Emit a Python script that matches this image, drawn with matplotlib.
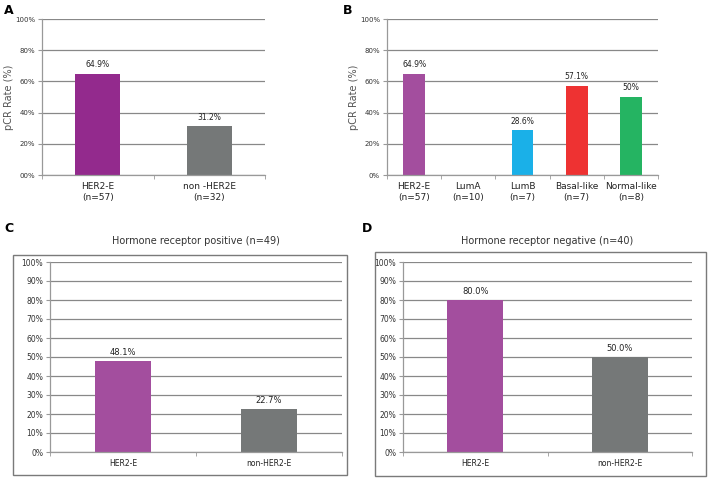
import matplotlib
matplotlib.use("Agg")
import matplotlib.pyplot as plt
from matplotlib.patches import Rectangle
import numpy as np

# panel A
a_cats = ["HER2-E\n(n=57)", "non -HER2E\n(n=32)"]
a_vals = [64.9, 31.2]
a_labels = ["64.9%", "31.2%"]
a_ticks = [0, 20, 40, 60, 80, 100]
a_ticklabels = ["00%", "20%", "40%", "60%", "80%", "100%"]

# panel B
b_cats = ["HER2-E\n(n=57)", "LumA\n(n=10)", "LumB\n(n=7)", "Basal-like\n(n=7)", "Normal-like\n(n=8)"]
b_vals = [64.9, 0, 28.6, 57.1, 50]
b_labels = ["64.9%", "", "28.6%", "57.1%", "50%"]
b_ticks = [0, 20, 40, 60, 80, 100]
b_ticklabels = ["0%", "20%", "40%", "60%", "80%", "100%"]

# panels C / D
cd_cats = ["HER2-E", "non-HER2-E"]
c_vals = [48.1, 22.7]
c_labels = ["48.1%", "22.7%"]
d_vals = [80.0, 50.0]
d_labels = ["80.0%", "50.0%"]
cd_ticks = list(range(0, 101, 10))
cd_ticklabels = [f"{t}%" for t in cd_ticks]

purple_a = "#932a8d"
purple = "#a34e9e"
gray = "#757878"
b_colors = [purple, purple, "#1ab0e8", "#ee3232", "#25b462"]

W, H = 708, 478
fig = plt.figure(figsize=(W / 100, H / 100), dpi=100)
plt.rcParams['font.family'] = ['DejaVu Sans']


def px_axes(left, top, right, bottom):
    return fig.add_axes([left / W, 1 - bottom / H, (right - left) / W, (bottom - top) / H])


def style(ax, n, ticks, ticklabels, tick_fs):
    ax.set_xlim(-0.5, n - 0.5)
    ax.set_ylim(0, 100)
    ax.set_yticks(ticks)
    ax.set_yticklabels(ticklabels, fontsize=tick_fs, color="#333333")
    ax.set_xticks(range(n))
    ax.tick_params(axis="x", length=0, pad=5)
    ax.set_xticks(np.arange(-0.5, n, 1.0), minor=True)
    ax.tick_params(axis="x", which="minor", length=3, color="#999999")
    ax.tick_params(axis="y", length=3, color="#999999", pad=2)
    ax.grid(axis="y", color="#888888", linewidth=0.9)
    ax.set_axisbelow(True)
    for s in ["top", "right"]:
        ax.spines[s].set_visible(False)
    for s in ["left", "bottom"]:
        ax.spines[s].set_color("#999999")
        ax.spines[s].set_linewidth(0.9)


def annotate(ax, vals, labels, fs, off):
    for i, (v, lab) in enumerate(zip(vals, labels)):
        if lab:
            ax.text(i, v + off, lab, ha="center", va="bottom", fontsize=fs, color="#222222")


# A
axA = px_axes(42, 19, 265, 175)
axA.bar(range(len(a_vals)), a_vals, width=0.4, color=[purple_a, gray], zorder=2)
style(axA, 2, a_ticks, a_ticklabels, 5)
axA.set_xticklabels(a_cats, fontsize=6.5, color="#222222", linespacing=1.3)
axA.set_ylabel("pCR Rate (%)", fontsize=7, color="#555555", labelpad=1)
annotate(axA, a_vals, a_labels, 5.5, 3)

# B
axB = px_axes(387, 19, 658, 175)
axB.bar(range(len(b_vals)), b_vals, width=0.4, color=b_colors, zorder=2)
style(axB, 5, b_ticks, b_ticklabels, 5)
axB.set_xticklabels(b_cats, fontsize=6.5, color="#222222", linespacing=1.3)
axB.set_ylabel("pCR Rate (%)", fontsize=7, color="#555555", labelpad=1)
annotate(axB, b_vals, b_labels, 5.5, 3)

# C
axC = px_axes(50, 262, 342, 452)
axC.bar(range(2), c_vals, width=0.39, color=[purple, gray], zorder=2)
style(axC, 2, cd_ticks, cd_ticklabels, 5.5)
axC.set_xticklabels(cd_cats, fontsize=5.5, color="#222222")
annotate(axC, c_vals, c_labels, 6, 2)
axC.set_title("Hormone receptor positive (n=49)", fontsize=7, color="#333333", pad=13)

# D
axD = px_axes(403, 262, 692, 452)
axD.bar(range(2), d_vals, width=0.39, color=[purple, gray], zorder=2)
style(axD, 2, cd_ticks, cd_ticklabels, 5.5)
axD.set_xticklabels(cd_cats, fontsize=5.5, color="#222222")
annotate(axD, d_vals, d_labels, 6, 2)
axD.set_title("Hormone receptor negative (n=40)", fontsize=7, color="#333333", pad=13)

# frames around C and D
for (l, t, r, b) in [(13, 255, 347, 475), (375, 252, 706, 476)]:
    fig.patches.append(Rectangle((l / W, 1 - b / H), (r - l) / W, (b - t) / H,
                                 transform=fig.transFigure, fill=False,
                                 edgecolor="#7a7a7a", linewidth=1.0))

# panel letters
for lab, x, y in [("A", 4, 10), ("B", 343, 10), ("C", 4, 228), ("D", 362, 228)]:
    fig.text(x / W, 1 - y / H, lab, fontsize=9, fontweight="bold", va="center", ha="left")

fig.savefig("out.png", dpi=100)
